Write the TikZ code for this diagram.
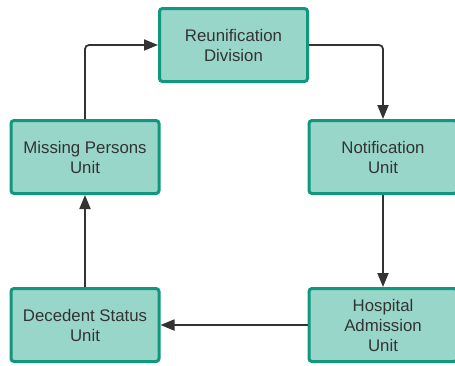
\documentclass[tikz,border=0pt]{standalone}
\usepackage{fontspec}
\setmainfont{Liberation Sans}
\usetikzlibrary{arrows.meta}
\definecolor{boxfill}{HTML}{98D6CA}
\definecolor{boxline}{HTML}{11977E}
\definecolor{ink}{HTML}{333333}
\tikzset{
  unit/.style={draw=boxline, fill=boxfill, line width=3pt, rounded corners=3pt,
    minimum width=148pt, minimum height=73pt, align=center, text=ink,
    font=\fontsize{16.8}{20}\selectfont, inner sep=2pt},
  flow/.style={draw=ink, line width=1.8pt, rounded corners=4pt,
    -{Triangle[length=14pt,width=11pt]}}
}
\begin{document}
\begin{tikzpicture}[x=1pt,y=-1pt]
  \useasboundingbox (0,0) rectangle (455,365);
  \clip (0,0) rectangle (455,365);
  \node[unit] (rd) at (233.5,45) {Reunification\\Division};
  \node[unit] (mp) at (85,157) {Missing Persons\\Unit};
  \node[unit] (nu) at (383,157) {Notification\\Unit};
  \node[unit] (ds) at (85,325) {Decedent Status\\Unit};
  \node[unit] (ha) at (383,325) {Hospital\\Admission\\Unit};
  \draw[flow] (mp.north) |- (rd.west);
  \draw[flow] (rd.east) -| (nu.north);
  \draw[flow] (nu.south) -- (ha.north);
  \draw[flow] (ha.west) -- (ds.east);
  \draw[flow] (ds.north) -- (mp.south);
\end{tikzpicture}
\end{document}
